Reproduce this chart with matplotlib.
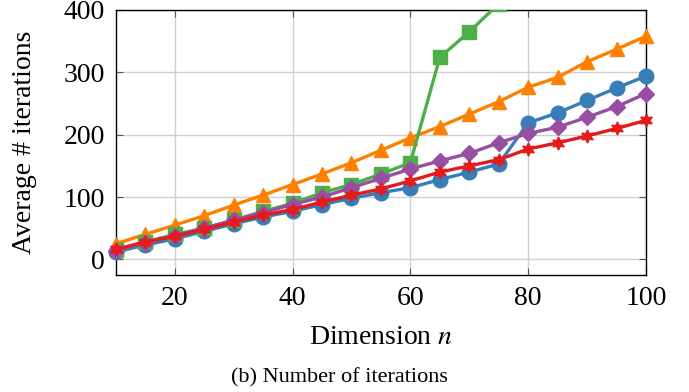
import matplotlib
matplotlib.use('Agg')
import matplotlib.pyplot as plt

n = [10, 15, 20, 25, 30, 35, 40, 45, 50, 55, 60, 65, 70, 75, 80, 85, 90, 95, 100]

blue = [12, 23, 33, 45, 57, 68, 77, 88, 98, 107, 115, 128, 140, 153, 219, 235, 255, 275, 294]
orange = [25, 40, 55, 70, 87, 103, 120, 137, 155, 175, 195, 213, 233, 253, 276, 292, 317, 337, 358]
green = [15, 28, 40, 50, 63, 77, 90, 107, 120, 137, 155, 324, 365, 410, 450, 490, 530, 570, 610]
purple = [14, 27, 38, 50, 63, 75, 88, 100, 115, 130, 145, 158, 170, 187, 202, 212, 228, 245, 266]
red = [16, 28, 37, 48, 60, 71, 80, 92, 103, 113, 126, 140, 150, 160, 177, 187, 198, 210, 223]

xticks = [20, 40, 60, 80, 100]
yticks = [0, 100, 200, 300, 400]

plt.rcParams['font.family'] = ['Liberation Serif', 'DejaVu Serif']
plt.rcParams['mathtext.fontset'] = 'stix'

fig = plt.figure(figsize=(6.89, 3.92), dpi=100)
ax = fig.add_axes([0.168, 0.2985, 0.7696, 0.676])

lw = 2.4
ax.plot(n, blue, color='#377eb8', marker='o', markersize=10.5, lw=lw, clip_on=False, zorder=3)
ax.plot(n, orange, color='#ff7f00', marker='^', markersize=10.5, lw=lw, clip_on=False, zorder=3)
ax.plot(n, green, color='#4daf4a', marker='s', markersize=9.5, lw=lw, zorder=3)
ax.plot(n, purple, color='#984ea3', marker='D', markersize=8, lw=lw, clip_on=False, zorder=3)
ax.plot(n, red, color='#e41a1c', marker=(6, 1, 0), markersize=9.5, lw=lw, clip_on=False, zorder=3)

ax.set_xlim(10, 100)
ax.set_ylim(-25, 400)
ax.set_xticks(xticks)
ax.set_yticks(yticks)
ax.grid(True, color='#d0d0d0', lw=1)
ax.set_axisbelow(True)
ax.tick_params(direction='in', top=True, right=True, labelsize=20, length=5,
               color='#555555', pad=8)
for s in ax.spines.values():
    s.set_linewidth(1.0)

ax.set_xlabel('Dimension $n$', fontsize=20, labelpad=10)
ax.set_ylabel('Average # iterations', fontsize=20, labelpad=19)
fig.text(0.492, 0.025, '(b) Number of iterations', ha='center', fontsize=16)

fig.savefig('out.png', dpi=100)
